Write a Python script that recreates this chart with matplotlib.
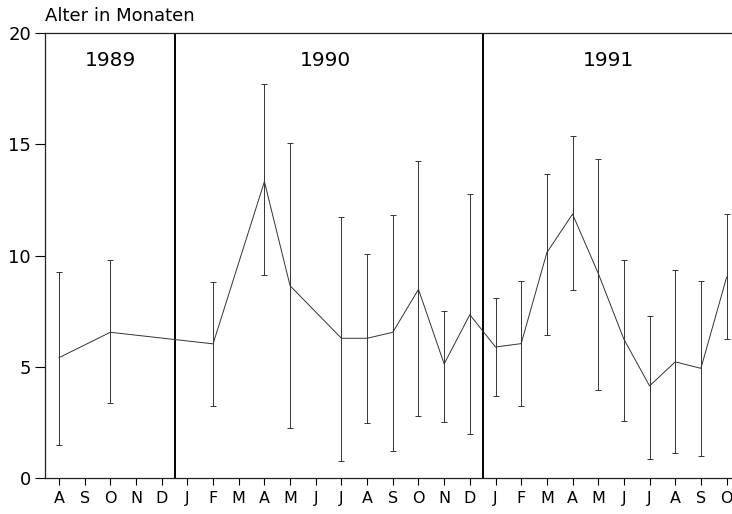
import matplotlib
matplotlib.use("Agg")
import matplotlib.pyplot as plt
import numpy as np

plt.rcParams['font.family'] = ['DejaVu Sans']

# Month axis: August 1989 through October 1991
month_labels = ["A", "S", "O", "N", "D",
                "J", "F", "M", "A", "M", "J", "J", "A", "S", "O", "N", "D",
                "J", "F", "M", "A", "M", "J", "J", "A", "S", "O"]

# Sampled months (index into month_labels)
sample_idx = [0, 2, 6, 8, 9, 11, 12, 13, 14, 15, 16,
              17, 18, 19, 20, 21, 22, 23, 24, 25, 26]
# Mean age in months
mean_age = [5.42, 6.56, 6.04, 13.33, 8.65, 6.29, 6.29, 6.56, 8.49, 5.14, 7.35,
            5.90, 6.05, 10.14, 11.87, 9.21, 6.25, 4.15, 5.23, 4.94, 9.03]
# Range limits
low_age = [1.50, 3.37, 3.24, 9.14, 2.28, 0.76, 2.49, 1.23, 2.80, 2.53, 1.99,
           3.70, 3.26, 6.45, 8.46, 3.98, 2.59, 0.88, 1.12, 1.00, 6.27]
high_age = [9.29, 9.80, 8.84, 17.72, 15.06, 11.76, 10.07, 11.82, 14.25, 7.53, 12.78,
            8.08, 8.85, 13.66, 15.40, 14.36, 9.80, 7.29, 9.35, 8.85, 11.87]

year_labels = ["1989", "1990", "1991"]
year_label_x = [2.0, 10.36, 21.4]
year_breaks = [4.5, 16.5]

fig = plt.figure(figsize=(7.32, 5.14), dpi=100)
ax = fig.add_axes([45 / 732, 0.0695, 697 / 732, 0.866])

x = np.array(sample_idx, dtype=float)
m = np.array(mean_age)
lo = m - np.array(low_age)
hi = np.array(high_age) - m

ax.errorbar(x, m, yerr=[lo, hi], color="#333333", lw=0.7, elinewidth=0.7,
            capsize=2.5, capthick=0.7)

for xb in year_breaks:
    ax.axvline(xb, color="black", lw=1.4)

for lab, xl in zip(year_labels, year_label_x):
    ax.text(xl, 18.75, lab, ha="center", va="center", fontsize=14.5, color="black")

ax.set_xlim(-0.545, 26.6)
ax.set_ylim(0, 20)
ax.set_xticks(range(len(month_labels)))
ax.set_xticklabels(month_labels, fontsize=11.5)
ax.set_yticks([0, 5, 10, 15, 20])
ax.tick_params(axis="y", length=7, width=0.8, labelsize=13, pad=3,
               labelcolor="black")
ax.tick_params(axis="x", length=5, width=0.8, pad=4, labelcolor="black")
ax.spines["right"].set_visible(False)
for s in ["left", "top", "bottom"]:
    ax.spines[s].set_linewidth(0.9)
    ax.spines[s].set_color("#222222")

fig.text(45 / 732, 1 - 16 / 514, "Alter in Monaten", ha="left", va="center",
         fontsize=13, color="black")

fig.savefig("out.png", dpi=100)
